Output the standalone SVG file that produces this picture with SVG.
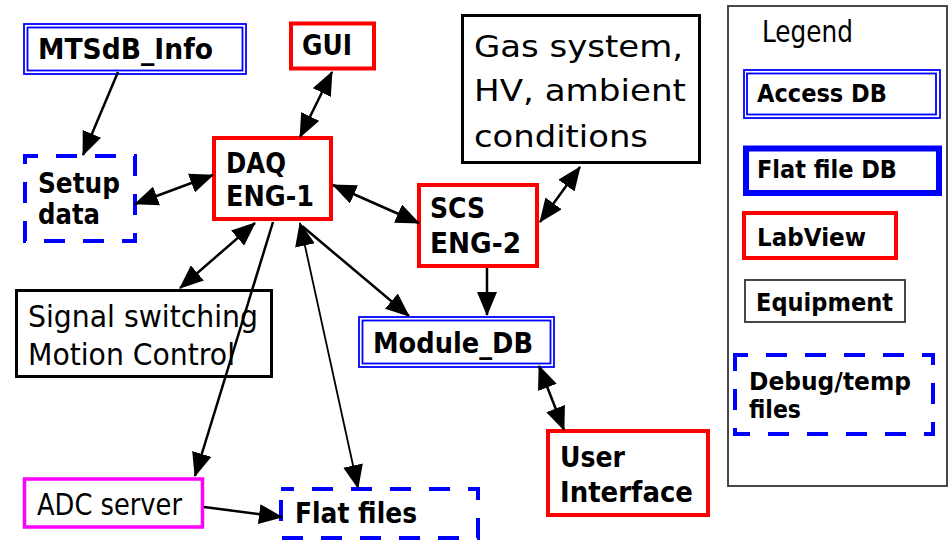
<svg xmlns="http://www.w3.org/2000/svg" width="950" height="545" viewBox="0 0 950 545">
  <style>
    .b { font-family: "DejaVu Sans", Verdana, sans-serif; font-weight: bold; font-size: 28.5px; fill: #000; }
    .lg { font-size: 24px; }
    .r { font-family: "DejaVu Sans", Verdana, sans-serif; font-size: 31px; fill: #000; }
    .acc { fill: #fff; stroke: #0000ff; stroke-width: 1.8; }
    .lab { fill: #fff; stroke: #ff0000; stroke-width: 4; }
    .flat { fill: #fff; stroke: #0000ff; stroke-width: 6; }
    .tmp { fill: #fff; stroke: #0000ff; stroke-width: 4; stroke-dasharray: 21 18; stroke-dashoffset: 8; }
    .eq { fill: #fff; stroke: #000; stroke-width: 3; }
    .adc { fill: #fff; stroke: #ff00ff; stroke-width: 3.5; }
    .link { fill: none; stroke: #000; stroke-width: 2.5; }
    .thin { stroke-width: 1.8; }
  </style>
  <defs>
    <marker id="ah" viewBox="0 0 24 20" markerUnits="userSpaceOnUse" markerWidth="24" markerHeight="20" refX="23" refY="10" orient="auto-start-reverse">
      <path d="M0,0 L24,10 L0,20 z" fill="#000"/>
    </marker>
  </defs>
  <rect width="950" height="545" fill="#fff"/>

  <!-- legend -->
  <g id="legend">
    <rect x="728" y="6" width="219" height="480" fill="#fff" stroke="#333" stroke-width="1.8"/>
    <text class="r" x="762" y="42" font-size="27" textLength="91" lengthAdjust="spacingAndGlyphs">Legend</text>
    <rect class="acc" x="744" y="70" width="196" height="48" stroke-width="1.5"/>
    <rect class="acc" x="747" y="73.5" width="189" height="41" stroke-width="1.5"/>
    <text class="b lg" x="757" y="102" textLength="130" lengthAdjust="spacingAndGlyphs">Access DB</text>
    <rect class="flat" x="746" y="148.5" width="193" height="44.5"/>
    <text class="b lg" x="757" y="178" textLength="140" lengthAdjust="spacingAndGlyphs">Flat file DB</text>
    <rect class="lab" x="744" y="213" width="152" height="45"/>
    <text class="b lg" x="757" y="246" textLength="109" lengthAdjust="spacingAndGlyphs">LabView</text>
    <rect x="745" y="280" width="160" height="42" fill="#fff" stroke="#333" stroke-width="1.8"/>
    <text class="b lg" x="756" y="311" textLength="137" lengthAdjust="spacingAndGlyphs">Equipment</text>
    <rect class="tmp" x="735" y="355" width="198" height="79"/>
    <text class="b lg" x="749" y="390" textLength="162" lengthAdjust="spacingAndGlyphs">Debug/temp</text>
    <text class="b lg" x="749" y="418" textLength="52" lengthAdjust="spacingAndGlyphs">files</text>
  </g>

  <!-- nodes -->
  <g id="mtsdb-info">
    <rect class="acc" x="24" y="24" width="222" height="50"/>
    <rect class="acc" x="27.5" y="27.5" width="215" height="43"/>
    <text class="b" x="38" y="59" textLength="175" lengthAdjust="spacingAndGlyphs">MTSdB_Info</text>
  </g>
  <g id="gui">
    <rect class="lab" x="291" y="23.5" width="83" height="45" stroke-width="3.5"/>
    <text class="b" x="302" y="55" font-size="22" textLength="50" lengthAdjust="spacingAndGlyphs">GUI</text>
  </g>
  <g id="setup-data">
    <rect class="tmp" x="25" y="156" width="110" height="85"/>
    <text class="b" x="38" y="193" textLength="82" lengthAdjust="spacingAndGlyphs">Setup</text>
    <text class="b" x="38" y="224" textLength="62" lengthAdjust="spacingAndGlyphs">data</text>
  </g>
  <g id="daq">
    <rect class="lab" x="214" y="138" width="117" height="81"/>
    <text class="b" x="226" y="173" textLength="60" lengthAdjust="spacingAndGlyphs">DAQ</text>
    <text class="b" x="226" y="206" textLength="88" lengthAdjust="spacingAndGlyphs">ENG-1</text>
  </g>
  <g id="gas-system">
    <rect class="eq" x="462.5" y="15.5" width="237" height="147"/>
    <text class="r" x="474" y="57" textLength="209" lengthAdjust="spacingAndGlyphs">Gas system,</text>
    <text class="r" x="474" y="101" textLength="212" lengthAdjust="spacingAndGlyphs">HV, ambient</text>
    <text class="r" x="474" y="147" textLength="174" lengthAdjust="spacingAndGlyphs">conditions</text>
  </g>
  <g id="scs">
    <rect class="lab" x="419" y="185" width="118" height="81"/>
    <text class="b" x="430" y="218" textLength="55" lengthAdjust="spacingAndGlyphs">SCS</text>
    <text class="b" x="430" y="253" textLength="91" lengthAdjust="spacingAndGlyphs">ENG-2</text>
  </g>
  <g id="signal-switching">
    <rect class="eq" x="16.5" y="290.5" width="255" height="86"/>
    <text class="r" x="28" y="327" font-size="30" textLength="230" lengthAdjust="spacingAndGlyphs">Signal switching</text>
    <text class="r" x="28" y="365" font-size="30" textLength="207" lengthAdjust="spacingAndGlyphs">Motion Control</text>
  </g>
  <g id="module-db">
    <rect class="acc" x="359" y="317" width="195" height="50"/>
    <rect class="acc" x="362.5" y="320.5" width="188" height="43"/>
    <text class="b" x="373" y="353" textLength="160" lengthAdjust="spacingAndGlyphs">Module_DB</text>
  </g>
  <g id="user-interface">
    <rect class="lab" x="548" y="431" width="160" height="84"/>
    <text class="b" x="560" y="467" textLength="65" lengthAdjust="spacingAndGlyphs">User</text>
    <text class="b" x="560" y="502" textLength="133" lengthAdjust="spacingAndGlyphs">Interface</text>
  </g>
  <g id="adc-server">
    <rect class="adc" x="24.5" y="479" width="178" height="48"/>
    <text class="r" x="37" y="515" font-size="29" textLength="145" lengthAdjust="spacingAndGlyphs">ADC server</text>
  </g>
  <g id="flat-files">
    <rect class="tmp" x="281" y="489" width="197" height="49"/>
    <text class="b" x="295" y="523" textLength="122" lengthAdjust="spacingAndGlyphs">Flat files</text>
  </g>

  <!-- connectors -->
  <g id="connectors">
    <line class="link" x1="118" y1="72" x2="83" y2="155" marker-end="url(#ah)"/>
    <line class="link" x1="332" y1="72" x2="300" y2="137" marker-start="url(#ah)" marker-end="url(#ah)"/>
    <line class="link" x1="213" y1="175" x2="135" y2="204" marker-start="url(#ah)" marker-end="url(#ah)"/>
    <line class="link" x1="333" y1="185" x2="419" y2="223" marker-start="url(#ah)" marker-end="url(#ah)"/>
    <line class="link" x1="580" y1="167" x2="540" y2="222" marker-start="url(#ah)" marker-end="url(#ah)"/>
    <line class="link" x1="255" y1="223" x2="180" y2="288" marker-start="url(#ah)" marker-end="url(#ah)"/>
    <line class="link" x1="273" y1="222" x2="195" y2="476" marker-end="url(#ah)"/>
    <line class="link thin" x1="300" y1="223" x2="358" y2="488" marker-start="url(#ah)" marker-end="url(#ah)"/>
    <line class="link" x1="302" y1="226" x2="409" y2="316" marker-end="url(#ah)"/>
    <line class="link" x1="487" y1="268" x2="487" y2="315" marker-end="url(#ah)"/>
    <line class="link" x1="539" y1="366" x2="564" y2="430" marker-start="url(#ah)" marker-end="url(#ah)"/>
    <line class="link" x1="204" y1="507" x2="282" y2="517" marker-end="url(#ah)"/>
  </g>
</svg>
